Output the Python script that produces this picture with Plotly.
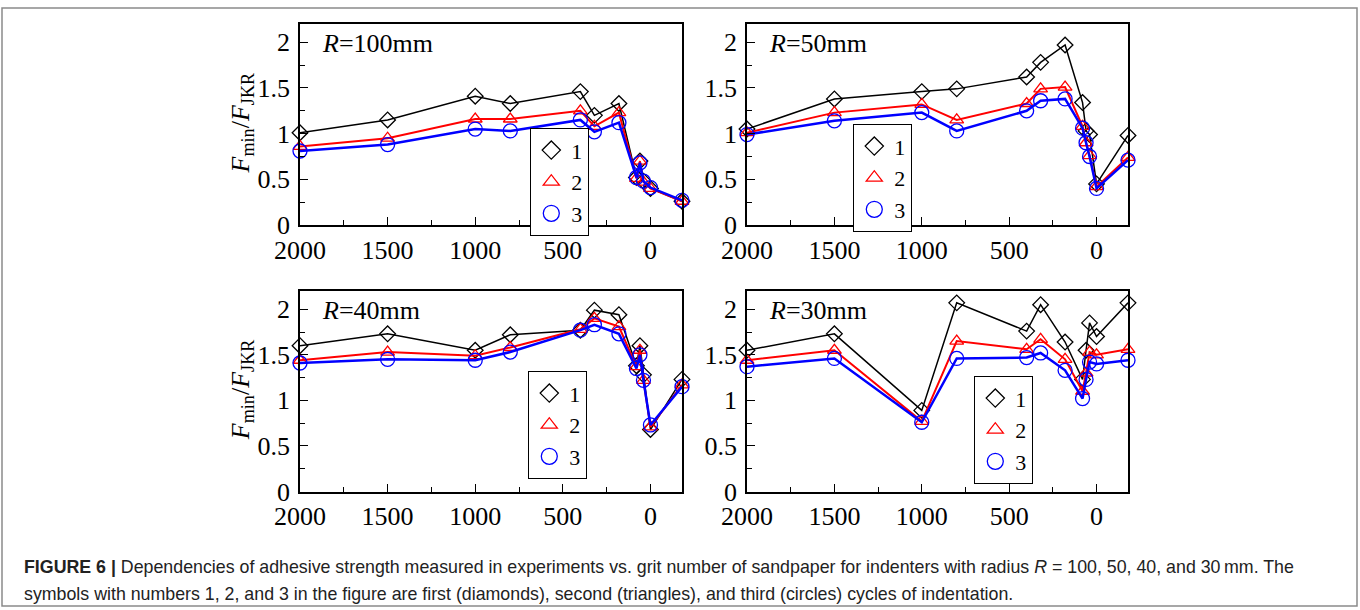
import plotly.graph_objects as go

# ---------------- data ----------------
grit = [2000, 1500, 1000, 800, 400, 320, 180, 80, 60, 40, 0, -180]

r100_c1 = [1.01, 1.15, 1.41, 1.33, 1.46, 1.20, 1.33, 0.52, 0.70, 0.48, 0.40, 0.26]
r100_c2 = [0.86, 0.95, 1.16, 1.16, 1.25, 1.08, 1.23, 0.51, 0.70, 0.47, 0.40, 0.26]
r100_c3 = [0.81, 0.88, 1.05, 1.03, 1.15, 1.02, 1.12, 0.52, 0.68, 0.48, 0.41, 0.27]

r50_c1 = [1.05, 1.38, 1.46, 1.49, 1.62, 1.78, 1.97, 1.34, 1.03, 0.99, 0.45, 0.98]
r50_c2 = [1.01, 1.23, 1.32, 1.15, 1.33, 1.49, 1.51, 1.08, 0.90, 0.76, 0.42, 0.74]
r50_c3 = [0.99, 1.14, 1.23, 1.03, 1.25, 1.36, 1.38, 1.06, 0.90, 0.75, 0.40, 0.71]

r40_c1 = [1.60, 1.73, 1.55, 1.72, 1.77, 1.99, 1.94, 1.38, 1.60, 1.28, 0.68, 1.23]
r40_c2 = [1.44, 1.53, 1.49, 1.58, 1.78, 1.90, 1.81, 1.37, 1.55, 1.22, 0.71, 1.17]
r40_c3 = [1.41, 1.45, 1.44, 1.53, 1.77, 1.83, 1.73, 1.35, 1.50, 1.22, 0.73, 1.15]

r30_c1 = [1.55, 1.73, 0.89, 2.07, 1.76, 2.05, 1.64, 1.23, 1.55, 1.85, 1.70, 2.07]
r30_c2 = [1.44, 1.55, 0.77, 1.65, 1.56, 1.67, 1.45, 1.10, 1.30, 1.53, 1.50, 1.56]
r30_c3 = [1.37, 1.46, 0.76, 1.46, 1.47, 1.52, 1.33, 1.02, 1.23, 1.42, 1.40, 1.44]

panel_labels = ["100", "50", "40", "30"]
cycle_names = ["1", "2", "3"]
x_ticks = [2000, 1500, 1000, 500, 0]
y_ticks = [0, 0.5, 1, 1.5, 2]

panels = [
    [r100_c1, r100_c2, r100_c3],
    [r50_c1, r50_c2, r50_c3],
    [r40_c1, r40_c2, r40_c3],
    [r30_c1, r30_c2, r30_c3],
]

# ---------------- style ----------------
W, H = 1360, 610
colors = ["#000000", "#ff0000", "#0000ff"]
symbols = ["diamond-open", "triangle-up-open", "circle-open"]
msizes = [12, 12, 14]
lwidths = [1.5, 2.0, 2.5]
SERIF = "Liberation Serif, Times New Roman, serif"

# plot boxes in pixels: (left, right, top, bottom)
boxes = [
    (300, 682, 24, 225),
    (747, 1128, 24, 225),
    (300, 682, 291, 491.5),
    (747, 1128, 291, 491.5),
]
legend_pos = [(530, 128), (853, 124), (528, 371), (974, 376)]

fig = go.Figure()
layout = dict(
    width=W, height=H,
    margin=dict(l=0, r=0, t=0, b=0, autoexpand=False),
    paper_bgcolor="white", plot_bgcolor="white",
    font=dict(family=SERIF, size=26, color="black"),
    showlegend=True,
)

annotations = []
for i, (series, lab) in enumerate(zip(panels, panel_labels)):
    k = "" if i == 0 else str(i + 1)
    xa, ya = "x" + k, "y" + k
    leg = "legend" if i == 0 else "legend" + str(i + 1)
    for j, ys in enumerate(series):
        fig.add_trace(go.Scatter(
            x=grit, y=ys, xaxis=xa, yaxis=ya, mode="lines+markers",
            line=dict(color=colors[j], width=lwidths[j]),
            marker=dict(symbol=symbols[j], size=msizes[j], color=colors[j],
                        line=dict(width=1.3, color=colors[j])),
            showlegend=False, cliponaxis=False,
        ))
    for j in range(3):
        fig.add_trace(go.Scatter(
            x=[None], y=[None], xaxis=xa, yaxis=ya, mode="markers",
            name=cycle_names[j], legend=leg,
            marker=dict(symbol=symbols[j], size=msizes[j] + 2, color=colors[j],
                        line=dict(width=1.3, color=colors[j])),
        ))
    l, r, t, b = boxes[i]
    common = dict(showline=True, linecolor="black", linewidth=1.5, mirror=True,
                  showgrid=False, zeroline=False, ticks="inside", ticklen=8,
                  tickwidth=1.3, tickcolor="black", automargin=False,
                  tickfont=dict(family=SERIF, size=26, color="black"))
    layout["xaxis" + k] = dict(
        domain=[l / W, r / W], anchor=ya, range=[2000, -180],
        tickmode="array", tickvals=x_ticks,
        minor=dict(dtick=250, tick0=0, ticks="inside", ticklen=5, tickwidth=1.2,
                   tickcolor="black", showgrid=False),
        ticklabelstandoff=1,
        **common)
    layout["yaxis" + k] = dict(
        domain=[1 - b / H, 1 - t / H], anchor=xa, range=[0, 2.2],
        tickmode="array", tickvals=y_ticks,
        minor=dict(dtick=0.25, tick0=0, ticks="inside", ticklen=5, tickwidth=1.2,
                   tickcolor="black", showgrid=False),
        ticklabelstandoff=3,
        **common)
    lx, ly = legend_pos[i]
    layout[leg] = dict(
        x=lx / W, y=1 - ly / H, xanchor="left", yanchor="top",
        xref="paper", yref="paper",
        bordercolor="black", borderwidth=1.3, bgcolor="white",
        font=dict(family=SERIF, size=22, color="black"),
        itemwidth=30, tracegroupgap=0, traceorder="normal",
    )
    # panel label
    annotations.append(dict(
        x=(l + 20) / W, y=1 - (t + 19) / H, xref="paper", yref="paper",
        xanchor="left", yanchor="middle", showarrow=False,
        text="<i>R</i>=" + lab + "mm",
        font=dict(family=SERIF, size=26, color="black"),
    ))
    if i in (0, 2):
        annotations.append(dict(
            x=242 / W, y=1 - ((t + b) / 2 - 2) / H, xref="paper", yref="paper",
            xanchor="center", yanchor="middle", showarrow=False, textangle=-90,
            text="<i>F</i><sub>min</sub>/<i>F</i><sub>JKR</sub>",
            font=dict(family=SERIF, size=26, color="black"),
        ))

CAP = "Liberation Sans, Arial, sans-serif"
annotations.append(dict(
    x=22 / W, y=1 - 567 / H, xref="paper", yref="paper", xanchor="left",
    yanchor="middle", showarrow=False,
    text="<b>FIGURE 6 |</b> Dependencies of adhesive strength measured in experiments vs. "
         "grit number of sandpaper for indenters with radius <i>R</i> = 100, 50, 40, and 30\u202fmm. The",
    font=dict(family=CAP, size=17.8, color="#222222"),
))
annotations.append(dict(
    x=22 / W, y=1 - 594 / H, xref="paper", yref="paper", xanchor="left",
    yanchor="middle", showarrow=False,
    text="symbols with numbers 1, 2, and 3 in the figure are first (diamonds), second "
         "(triangles), and third (circles) cycles of indentation.",
    font=dict(family=CAP, size=17.8, color="#222222"),
))
layout["annotations"] = annotations
layout["shapes"] = [dict(type="rect", xref="paper", yref="paper",
                         x0=2 / W, x1=1357 / W, y0=1 - 606 / H, y1=1 - 8 / H,
                         line=dict(color="#8a8a8a", width=1.5))]

fig.update_layout(**layout)
fig.write_html("out.html")
